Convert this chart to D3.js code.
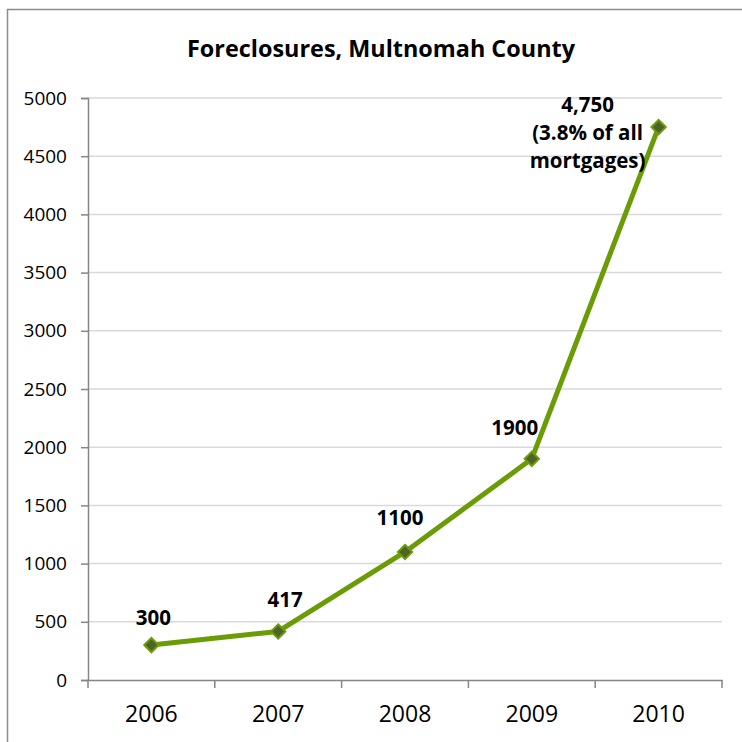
<!DOCTYPE html>
<html>
<head>
<meta charset="utf-8">
<script src="https://cdn.jsdelivr.net/npm/d3@7"></script>
<style>
  body { margin: 0; background: #fff; }
  text { font-family: "Open Sans", sans-serif; fill: #000; }
</style>
</head>
<body>
<div id="chart"></div>
<script>
// Data
// ==============================================================================
var years = ["2006", "2007", "2008", "2009", "2010"];
var foreclosures = [300, 417, 1100, 1900, 4750];
var pointLabels = [["300"], ["417"], ["1100"], ["1900"], ["4,750", "(3.8% of all", "mortgages)"]];
var yTicks = [0, 500, 1000, 1500, 2000, 2500, 3000, 3500, 4000, 4500, 5000];

// label nudges (px) relative to the point, like Excel's manually dragged labels
var labelShift = [[2, -20], [7, -24], [-5, -27], [-17, -24], [-71, -15]];

// Canvas
// ==============================================================================
var svgWidth = 742;
var svgHeight = 742;

var margin = { top: 98, right: 20, bottom: 62, left: 88 };
var width = 722 - margin.left;
var height = 680 - margin.top;

var svg = d3.select("#chart")
  .append("svg")
  .attr("width", svgWidth)
  .attr("height", svgHeight);

// chart frame
svg.append("rect")
  .attr("x", 7.5)
  .attr("y", 9.5)
  .attr("width", 760)
  .attr("height", 760)
  .attr("fill", "none")
  .attr("stroke", "#8c8c8c")
  .attr("stroke-width", 1.5);

svg.append("text")
  .attr("x", 381)
  .attr("y", 57)
  .attr("text-anchor", "middle")
  .attr("font-weight", "bold")
  .attr("font-size", "23.4px")
  .text("Foreclosures, Multnomah County");

var chartGroup = svg.append("g")
  .attr("transform", `translate(${margin.left}, ${margin.top})`);

// Scales
// ==============================================================================
var xScale = d3.scaleBand().domain(years).range([0, width]);
var yScale = d3.scaleLinear().domain([0, 5000]).range([height, 0]);

// gridlines
chartGroup.append("g")
  .selectAll("line")
  .data(yTicks.filter(d => d > 0))
  .enter()
  .append("line")
  .attr("x1", 0)
  .attr("x2", width)
  .attr("y1", d => yScale(d))
  .attr("y2", d => yScale(d))
  .attr("stroke", "#d9d9d9")
  .attr("stroke-width", 1.5);

// Axes
// ==============================================================================
var leftAxis = d3.axisLeft(yScale)
  .tickValues(yTicks)
  .tickFormat(d3.format("d"))
  .tickSize(7)
  .tickPadding(14);
var yAxisG = chartGroup.append("g").call(leftAxis);
yAxisG.selectAll("text").attr("font-size", "19px");

var bottomAxis = d3.axisBottom(xScale).tickSize(0).tickPadding(26);
var xAxisG = chartGroup.append("g")
  .attr("transform", `translate(0, ${height})`)
  .call(bottomAxis);
xAxisG.selectAll("text").attr("font-size", "23px");

// category boundary ticks
xAxisG.selectAll(".bound")
  .data(years.concat(["end"]))
  .enter()
  .append("line")
  .attr("class", "bound")
  .attr("x1", (d, i) => i * xScale.step())
  .attr("x2", (d, i) => i * xScale.step())
  .attr("y1", 0)
  .attr("y2", 8)
  .attr("stroke", "#868686")
  .attr("stroke-width", 1.5);

[yAxisG, xAxisG].forEach(function(g) {
  g.select(".domain").attr("stroke", "#868686").attr("stroke-width", 1.5);
  g.selectAll(".tick line").attr("stroke", "#868686").attr("stroke-width", 1.5);
});

// Line + markers
// ==============================================================================
var xPos = (d, i) => xScale(years[i]) + xScale.bandwidth() / 2;

var line = d3.line()
  .x(xPos)
  .y(d => yScale(d));

chartGroup.append("path")
  .datum(foreclosures)
  .attr("d", line)
  .attr("fill", "none")
  .attr("stroke", "#6a9c06")
  .attr("stroke-width", 5)
  .attr("stroke-linejoin", "round");

chartGroup.selectAll(".marker")
  .data(foreclosures)
  .enter()
  .append("path")
  .attr("class", "marker")
  .attr("d", d3.symbol().type(d3.symbolDiamond2).size(130))
  .attr("transform", (d, i) => `translate(${xPos(d, i)}, ${yScale(d)})`)
  .attr("fill", "#4f6228")
  .attr("stroke", "#6a9c06")
  .attr("stroke-width", 2);

// Data labels
// ==============================================================================
var labels = chartGroup.selectAll(".dlabel")
  .data(foreclosures)
  .enter()
  .append("text")
  .attr("class", "dlabel")
  .attr("text-anchor", "middle")
  .attr("font-weight", "bold")
  .attr("font-size", "20.5px")
  .attr("x", (d, i) => xPos(d, i) + labelShift[i][0])
  .attr("y", (d, i) => yScale(d) + labelShift[i][1]);

labels.each(function(d, i) {
  var lines = pointLabels[i];
  var t = d3.select(this);
  lines.forEach(function(s, k) {
    t.append("tspan")
      .attr("x", xPos(d, i) + labelShift[i][0])
      .attr("dy", k === 0 ? 0 : 28)
      .text(s);
  });
});
</script>
</body>
</html>
